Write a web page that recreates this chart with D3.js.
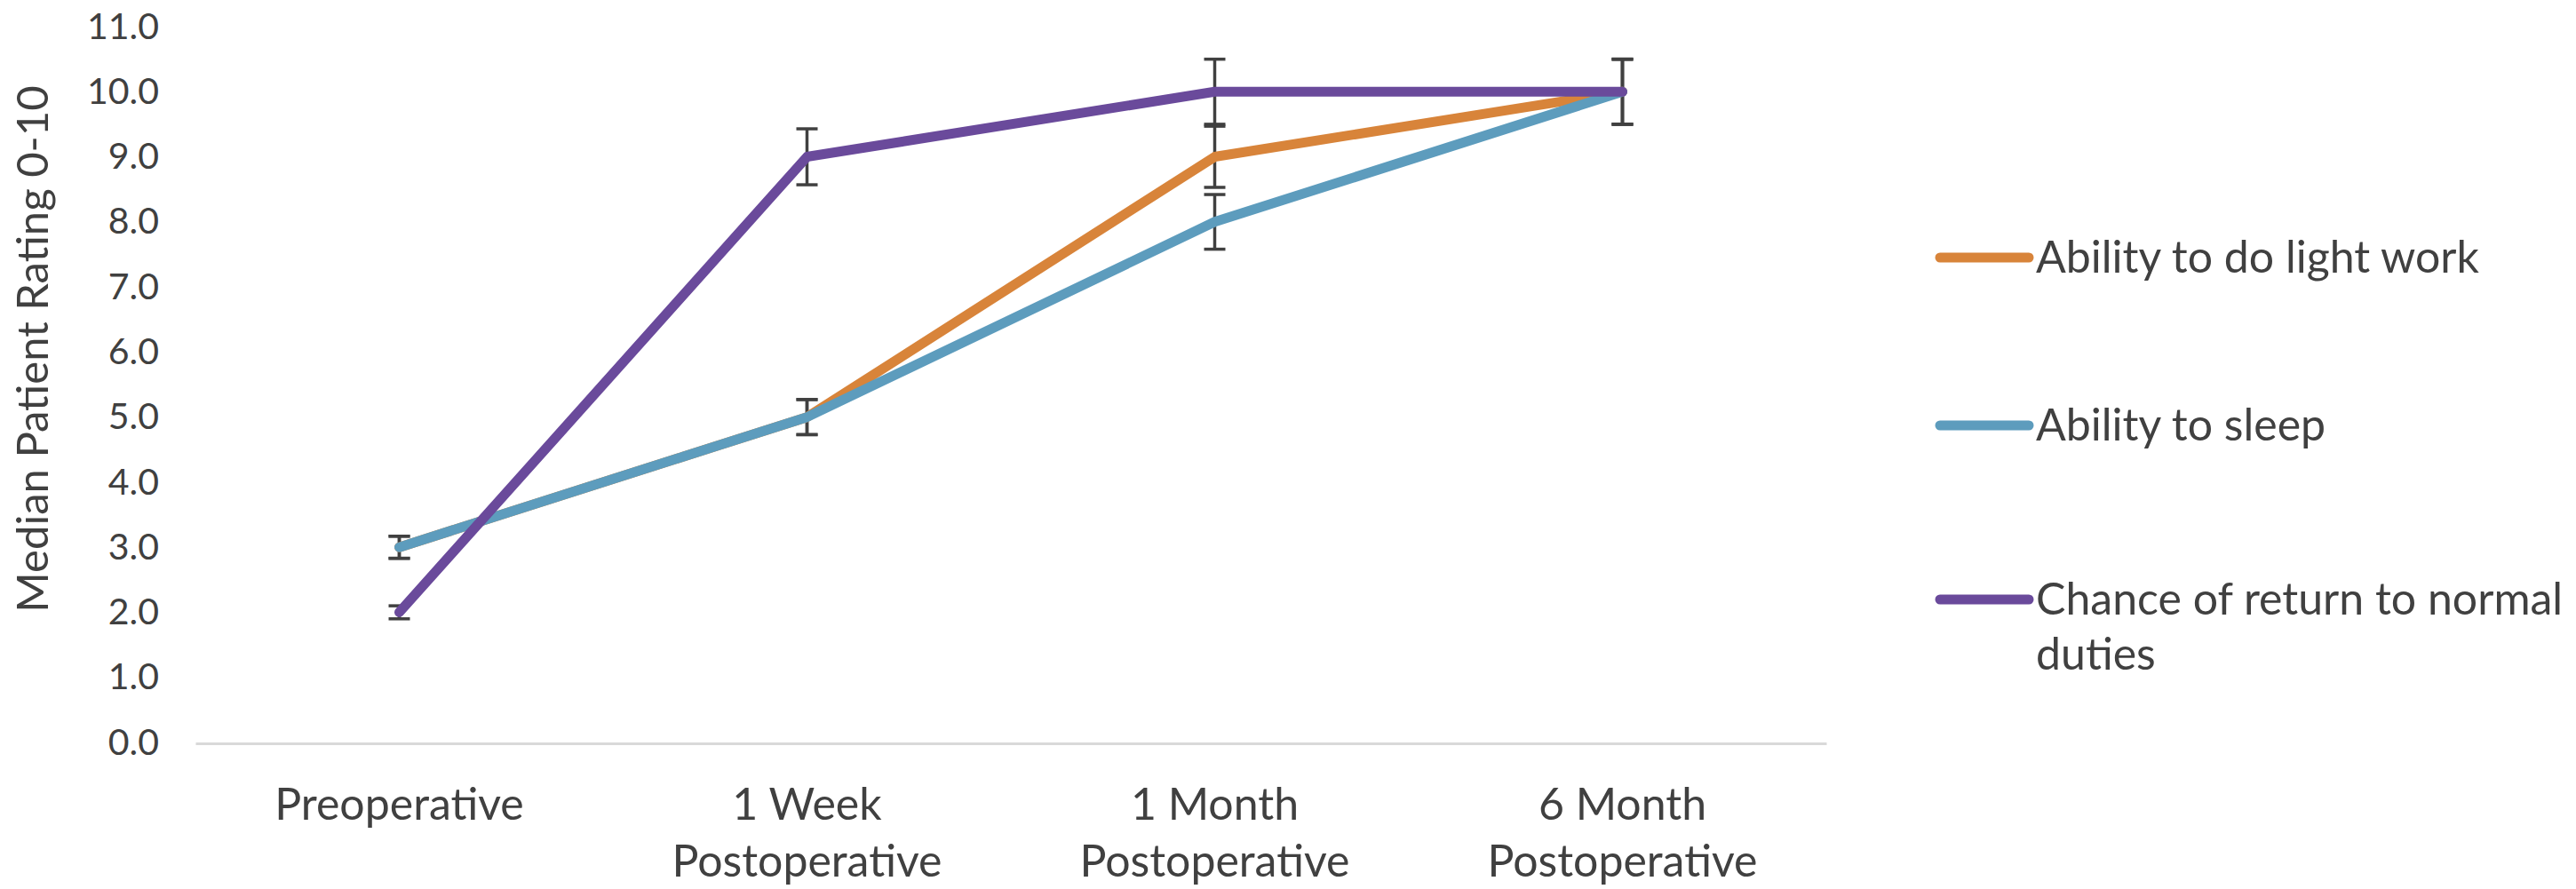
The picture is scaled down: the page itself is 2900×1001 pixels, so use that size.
<!DOCTYPE html>
<html>
<head>
<meta charset="utf-8">
<script src="https://cdn.jsdelivr.net/npm/d3@7"></script>
<style>
  html, body { margin: 0; padding: 0; background: #ffffff; }
  svg { display: block; }
  text { font-family: Lato, "Open Sans", sans-serif; fill: #404040; }
</style>
</head>
<body>
<svg id="chart" width="2900" height="1001"></svg>
<script>
// ---- data ----
const categories = [["Preoperative"], ["1 Week", "Postoperative"], ["1 Month", "Postoperative"], ["6 Month", "Postoperative"]];
const seriesNames = ["Ability to do light work", "Ability to sleep", "Chance of return to normal duties"];
const lightWorkValues = [3, 5, 9, 10];
const lightWorkErrors = [0.17, 0.27, 0.47, 0.5];
const sleepValues = [3, 5, 8, 10];
const sleepErrors = [0.17, 0.27, 0.42, 0.5];
const dutiesValues = [2, 9, 10, 10];
const dutiesErrors = [0.1, 0.43, 0.5, 0.5];
const yTicks = [0, 1, 2, 3, 4, 5, 6, 7, 8, 9, 10, 11];
const seriesColors = ["#D8843A", "#5D9CBD", "#6A4A9B"];
const yAxisTitle = "Median Patient Rating 0-10";

const series = [
  { name: seriesNames[0], values: lightWorkValues, errors: lightWorkErrors, color: seriesColors[0] },
  { name: seriesNames[1], values: sleepValues, errors: sleepErrors, color: seriesColors[1] },
  { name: seriesNames[2], values: dutiesValues, errors: dutiesErrors, color: seriesColors[2] }
];

// ---- layout ----
const plot = { left: 220, right: 2056, top: 30, bottom: 836 };
const svg = d3.select("#chart");

const x = d3.scaleBand()
  .domain(d3.range(categories.length))
  .range([plot.left, plot.right]);
const y = d3.scaleLinear().domain([0, 11]).range([plot.bottom, plot.top]);
const cx = i => x(i) + x.bandwidth() / 2;

// y axis (labels only)
const yAxis = d3.axisLeft(y).tickValues(yTicks).tickFormat(d3.format(".1f")).tickSize(0).tickPadding(0);
const yg = svg.append("g").attr("transform", `translate(179,0)`).call(yAxis);
yg.select(".domain").remove();
yg.selectAll("text").style("font-size", "41px").style("font-family", "Lato, sans-serif").attr("fill", "#404040");

// x axis
const xAxis = d3.axisBottom(x).tickSize(0).tickFormat(() => "");
const xg = svg.append("g").attr("transform", `translate(0,${plot.bottom + 1})`).call(xAxis);
xg.select(".domain").attr("stroke", "#D9D9D9").attr("stroke-width", 3);
xg.selectAll(".tick").each(function(d) {
  const t = d3.select(this).append("text")
    .attr("text-anchor", "middle")
    .style("font-size", "50px")
    .attr("fill", "#404040");
  categories[d].forEach((line, k) => {
    t.append("tspan").attr("x", 0).attr("y", 86 + k * 64).text(line);
  });
});

// y axis title
svg.append("text")
  .attr("transform", `translate(54,${(plot.top + plot.bottom) / 2 - 40}) rotate(-90)`)
  .attr("text-anchor", "middle")
  .style("font-size", "49px")
  .text(yAxisTitle);

// error bars (beneath lines)
const capHalf = 12;
const eg = svg.append("g");
series.forEach(s => {
  s.values.forEach((v, i) => {
    const g = eg.append("g").attr("stroke", "#404040").attr("stroke-width", 3.5).attr("fill", "none");
    const x0 = cx(i), y1 = y(v + s.errors[i]), y2 = y(v - s.errors[i]);
    g.append("line").attr("x1", x0).attr("x2", x0).attr("y1", y1).attr("y2", y2);
    g.append("line").attr("x1", x0 - capHalf).attr("x2", x0 + capHalf).attr("y1", y1).attr("y2", y1);
    g.append("line").attr("x1", x0 - capHalf).attr("x2", x0 + capHalf).attr("y1", y2).attr("y2", y2);
  });
});

// lines
const line = d3.line().x((d, i) => cx(i)).y(d => y(d));
series.forEach(s => {
  svg.append("path")
    .datum(s.values)
    .attr("d", line)
    .attr("fill", "none")
    .attr("stroke", s.color)
    .attr("stroke-width", 11)
    .attr("stroke-linejoin", "round")
    .attr("stroke-linecap", "round");
});

// legend
const legend = svg.append("g").attr("transform", "translate(2184,0)");
const legendY = [290, 479, 675];
series.forEach((s, k) => {
  const g = legend.append("g").attr("transform", `translate(0,${legendY[k]})`);
  g.append("line").attr("x1", 0).attr("x2", 100).attr("y1", 0).attr("y2", 0)
    .attr("stroke", s.color).attr("stroke-width", 11).attr("stroke-linecap", "round");
  const t = g.append("text").attr("x", 108).attr("y", 17).style("font-size", "50px");
  if (k === 2) {
    t.append("tspan").attr("x", 108).attr("dy", 0).text("Chance of return to normal");
    t.append("tspan").attr("x", 108).attr("dy", 62).text("duties");
  } else {
    t.text(s.name);
  }
});
</script>
</body>
</html>
